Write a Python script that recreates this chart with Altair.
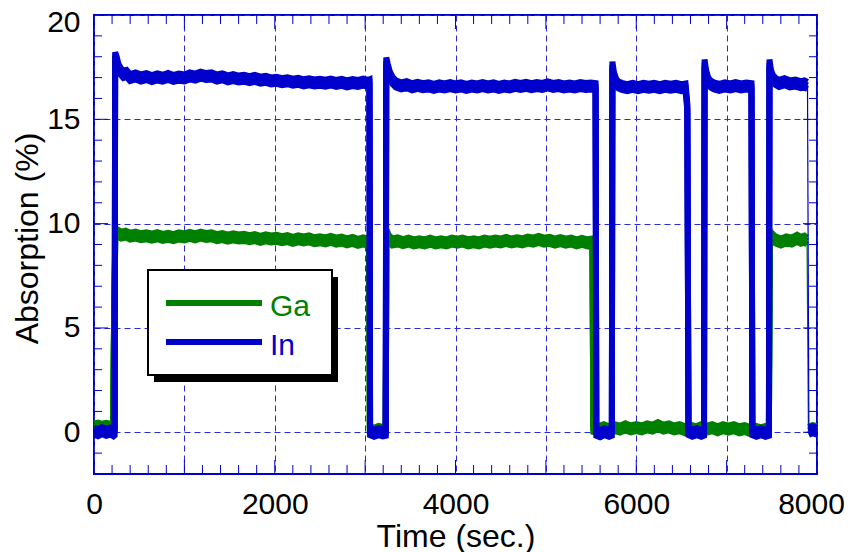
import altair as alt
import pandas as pd

SERIES = ["Ga", "In"]
COLORS = ["#008000", "#0000CC"]
FONT = "Liberation Sans"

# ---- In (blue) trace ----
IN_TIME = [0, 45, 90, 135, 180, 215, 228,
           234, 250, 270, 295, 325, 360, 400,
           460, 520, 580, 640, 700, 760, 820, 880, 940, 1000, 1060, 1120, 1180, 1240, 1300,
           1360, 1420, 1480, 1540, 1600, 1660, 1720, 1780, 1840, 1900, 1960, 2020, 2080,
           2140, 2200, 2260, 2320, 2380, 2440, 2500, 2560, 2620, 2680, 2740, 2800, 2860,
           2920, 2980, 3030, 3048,
           3055, 3100, 3150, 3195, 3228,
           3234, 3250, 3275, 3305, 3340,
           3400, 3460, 3520, 3580, 3640, 3700, 3760, 3820, 3880, 3940, 4000, 4060, 4120,
           4180, 4240, 4300, 4360, 4420, 4480, 4540, 4600, 4660, 4720, 4780, 4840, 4900,
           4960, 5020, 5080, 5140, 5200, 5260, 5320, 5380, 5440, 5500, 5550,
           5558, 5600, 5650, 5700, 5730,
           5736, 5752, 5775, 5800, 5840,
           5900, 5960, 6020, 6080, 6140, 6200, 6260, 6320, 6380, 6440, 6500, 6545, 6565,
           6578, 6620, 6670, 6720, 6750,
           6756, 6772, 6795, 6825, 6860,
           6920, 6980, 7040, 7100, 7160, 7220, 7275,
           7285, 7330, 7380, 7430, 7468,
           7474, 7490, 7512, 7540, 7580, 7640, 7700, 7760, 7820, 7860, 7895]
IN_ABS = [0.05, -0.02, 0.08, 0.00, 0.06, -0.03, 0.02,
          18.05, 17.85, 17.5, 17.3, 17.15, 17.2, 17.0,
          17.08, 16.98, 17.05, 16.95, 17.03, 16.97, 17.06, 16.96, 17.02, 16.98, 17.08, 17.02, 17.12, 17.05, 17.08,
          16.98, 17.04, 16.94, 17.0, 16.93, 16.97, 16.9, 16.96, 16.88, 16.92, 16.84, 16.87, 16.8,
          16.85, 16.78, 16.82, 16.75, 16.8, 16.74, 16.78, 16.73, 16.79, 16.72, 16.77, 16.7, 16.76,
          16.72, 16.78, 16.72, 16.75,
          0.03, -0.05, 0.03, -0.03, 0.00,
          17.8, 17.5, 17.1, 16.85, 16.7,
          16.6, 16.66, 16.56, 16.63, 16.56, 16.6, 16.53, 16.6, 16.55, 16.62, 16.55, 16.6, 16.53,
          16.59, 16.55, 16.62, 16.55, 16.6, 16.53, 16.59, 16.55, 16.63, 16.58, 16.63, 16.56, 16.62,
          16.58, 16.65, 16.58, 16.62, 16.55, 16.59, 16.55, 16.62, 16.57, 16.6, 16.57,
          0.00, -0.07, 0.03, -0.05, 0.00,
          17.6, 17.1, 16.8, 16.65, 16.58,
          16.52, 16.58, 16.52, 16.58, 16.54, 16.58, 16.52, 16.58, 16.54, 16.58, 16.52, 16.55, 15.6,
          0.03, -0.05, 0.03, -0.05, 0.00,
          17.7, 17.2, 16.85, 16.68, 16.6,
          16.53, 16.6, 16.55, 16.62, 16.55, 16.6, 16.57,
          0.03, -0.05, 0.03, -0.05, 0.00,
          17.7, 17.2, 16.95, 16.82, 16.72, 16.8, 16.7, 16.74, 16.66, 16.7, 16.62]
IN_TAIL_TIME = [7895, 7910]
IN_TAIL_ABS = [16.62, 0.05]
IN_END_TIME = [7910, 7950, 8000]
IN_END_ABS = [0.05, 0.12, 0.05]

# ---- Ga (green) trace ----
GA_TIME = [0, 45, 90, 135, 180, 210, 220, 236, 260, 300, 350, 400,
           460, 520, 580, 640, 700, 760, 820, 880, 940, 1000, 1060, 1120, 1180, 1240, 1300,
           1360, 1420, 1480, 1540, 1600, 1660, 1720, 1780, 1840, 1900, 1960, 2020, 2080,
           2140, 2200, 2260, 2320, 2380, 2440, 2500, 2560, 2620, 2680, 2740, 2800, 2860,
           2920, 2980, 3030, 3045,
           3052, 3100, 3150, 3200, 3228,
           3236, 3260, 3300, 3360, 3420, 3480, 3540, 3600, 3660, 3720, 3780, 3840, 3900,
           3960, 4020, 4080, 4140, 4200, 4260, 4320, 4380, 4440, 4500, 4560, 4620, 4680,
           4740, 4800, 4860, 4920, 4980, 5040, 5100, 5160, 5220, 5280, 5340, 5400, 5460, 5515,
           5525, 5580, 5640, 5700, 5760, 5820, 5880, 5940, 6000, 6060, 6120, 6180, 6240,
           6300, 6360, 6420, 6480, 6540, 6600, 6660, 6720, 6780, 6840, 6900, 6960, 7020,
           7080, 7140, 7200, 7260, 7320, 7380, 7440, 7468,
           7478, 7500, 7540, 7600, 7660, 7720, 7780, 7820, 7860, 7890]
GA_ABS = [0.26, 0.3, 0.24, 0.28, 0.24, 0.28, 4.5, 9.55, 9.55, 9.45, 9.5, 9.4,
          9.45, 9.37, 9.42, 9.35, 9.42, 9.34, 9.39, 9.33, 9.41, 9.36, 9.44, 9.37, 9.45, 9.39, 9.42,
          9.33, 9.38, 9.3, 9.37, 9.31, 9.34, 9.28, 9.33, 9.25, 9.32, 9.27, 9.3, 9.23,
          9.28, 9.2, 9.27, 9.22, 9.27, 9.18, 9.23, 9.17, 9.25, 9.16, 9.21, 9.13, 9.2,
          9.1, 9.17, 9.12, 9.16,
          0.12, 0.06, 0.14, 0.08, 0.1,
          9.55, 9.3, 9.12, 9.17, 9.09, 9.16, 9.08, 9.13, 9.08, 9.16, 9.08, 9.13, 9.08,
          9.16, 9.11, 9.16, 9.08, 9.13, 9.08, 9.16, 9.11, 9.17, 9.12, 9.2, 9.12, 9.18,
          9.13, 9.21, 9.16, 9.24, 9.16, 9.2, 9.11, 9.19, 9.11, 9.16, 9.08, 9.15, 9.08, 9.12,
          0.18, 0.12, 0.22, 0.12, 0.22, 0.15, 0.26, 0.16, 0.22, 0.16, 0.26, 0.2, 0.32,
          0.2, 0.26, 0.16, 0.22, 0.12, 0.2, 0.12, 0.22, 0.15, 0.22, 0.12, 0.22, 0.15,
          0.22, 0.12, 0.18, 0.08, 0.14, 0.08, 0.14, 0.1,
          9.5, 9.38, 9.22, 9.12, 9.22, 9.16, 9.3, 9.2, 9.26, 9.16]
GA_TAIL_TIME = [7890, 7905]
GA_TAIL_ABS = [9.16, 0.10]
GA_END_TIME = [7905, 7950, 8000]
GA_END_ABS = [0.10, 0.18, 0.14]

# ---- axis ticks ----
X_GRID = list(range(0, 8001, 1000))
X_MINOR = [t for t in range(0, 8001, 200) if t % 1000]
Y_GRID = [0, 5, 10, 15, 20]
Y_MINOR = [v for v in range(-2, 21) if v % 5]

W, H = 723, 459
BLUE = "#0000CC"
GRID = "#2a2ad8"
BAND = 3.5  # half spread of the noisy trace band, px

XS = alt.Scale(domain=[0, 8000], nice=False, zero=False)
YS = alt.Scale(domain=[-2, 20], nice=False, zero=False)

x_axis = alt.Axis(
    values=X_GRID, labelExpr="datum.value % 2000 == 0 ? datum.label : ''", format="d",
    title="Time (sec.)", grid=True, gridDash=[6, 4], gridColor=GRID, gridWidth=1,
    ticks=False, domain=False, labelFontSize=30, labelPadding=15, labelFlush=False,
    labelOffset={"condition": {"test": "datum.value == 8000", "value": -6}, "value": 0},
    labelOverlap=False, labelColor="black", labelFont=FONT, titleFont=FONT,
    titleFontSize=32, titleFontWeight="normal", titleColor="black",
    titleX=W / 2, titleY=72, titleBaseline="alphabetic", titleAlign="center")
y_axis = alt.Axis(
    values=Y_GRID, format="d", title="Absorption (%)", grid=True, gridDash=[6, 4],
    gridColor=GRID, gridWidth=1, ticks=False, domain=False, labelFontSize=30,
    labelPadding=14, labelColor="black", labelFont=FONT, titleFont=FONT,
    labelOverlap=False, labelBaseline="middle", labelFlush=False,
    labelOffset={"condition": {"test": "datum.value == 20", "value": 7}, "value": 0},
    titleFontSize=32, titleFontWeight="normal", titleColor="black", titleAngle=270,
    titleX=-57, titleY=223, titleAlign="center", titleBaseline="alphabetic")


def X(field):
    return alt.X(field, scale=XS, axis=x_axis)


def Y(field):
    return alt.Y(field, scale=YS, axis=y_axis)


def frame(t, v):
    return pd.DataFrame({"time": t, "absorption": v})


def trace(t, v, color, width, band=True):
    df = frame(t, v)
    offsets = [-BAND, 0, BAND] if band else [0]
    return [alt.Chart(df).mark_line(
        color=color, strokeWidth=width, strokeJoin="miter", strokeMiterLimit=2,
        yOffset=o).encode(x=X("time:Q"), y=Y("absorption:Q")) for o in offsets]


layers = []
layers += trace(GA_TIME, GA_ABS, COLORS[0], 6)
layers += trace(GA_TAIL_TIME, GA_TAIL_ABS, COLORS[0], 1.2, band=False)
layers += trace(GA_END_TIME, GA_END_ABS, COLORS[0], 6)
layers += trace(IN_TIME, IN_ABS, COLORS[1], 6)
layers += trace(IN_TAIL_TIME, IN_TAIL_ABS, COLORS[1], 1.2, band=False)
layers += trace(IN_END_TIME, IN_END_ABS, COLORS[1], 6)


def xticks(vals, length):
    df = pd.DataFrame({"pos": vals})
    bottom = alt.Chart(df).mark_rule(color=BLUE, strokeWidth=1).encode(
        x=X("pos:Q"), y=alt.value(H), y2=alt.value(H - length))
    top = alt.Chart(df).mark_rule(color=BLUE, strokeWidth=1).encode(
        x=X("pos:Q"), y=alt.value(0), y2=alt.value(length))
    return [bottom, top]


def yticks(vals, length):
    df = pd.DataFrame({"pos": vals})
    left = alt.Chart(df).mark_rule(color=BLUE, strokeWidth=1).encode(
        y=Y("pos:Q"), x=alt.value(0), x2=alt.value(length))
    right = alt.Chart(df).mark_rule(color=BLUE, strokeWidth=1).encode(
        y=Y("pos:Q"), x=alt.value(W), x2=alt.value(W - length))
    return [left, right]


layers += xticks(X_MINOR, 9) + xticks(X_GRID, 14) + yticks(Y_MINOR, 8) + yticks(Y_GRID, 14)

one = pd.DataFrame({"k": [0]})
layers.append(alt.Chart(one).mark_rect(color="black").encode(
    x=alt.value(60), x2=alt.value(244), y=alt.value(262), y2=alt.value(367)))
layers.append(alt.Chart(one).mark_rect(fill="white", stroke="black", strokeWidth=2).encode(
    x=alt.value(54), x2=alt.value(238), y=alt.value(255), y2=alt.value(360)))
for i, (name, col) in enumerate(zip(SERIES, COLORS)):
    yy = 288 + 39 * i
    layers.append(alt.Chart(one).mark_rule(color=col, strokeWidth=6).encode(
        x=alt.value(72), x2=alt.value(168), y=alt.value(yy)))
    layers.append(alt.Chart(one).mark_text(
        text=name, color=col, font=FONT, fontSize=30, align="left",
        baseline="alphabetic").encode(x=alt.value(176), y=alt.value(yy + 13)))

chart = alt.layer(*layers).properties(
    width=W, height=H,
    autosize=alt.AutoSizeParams(type="none"),
    padding={"left": 86, "top": 7, "right": 27, "bottom": 78},
).configure_view(stroke=BLUE, strokeWidth=2)

chart.save("out.html", embed_options={"renderer": "svg", "actions": False})
